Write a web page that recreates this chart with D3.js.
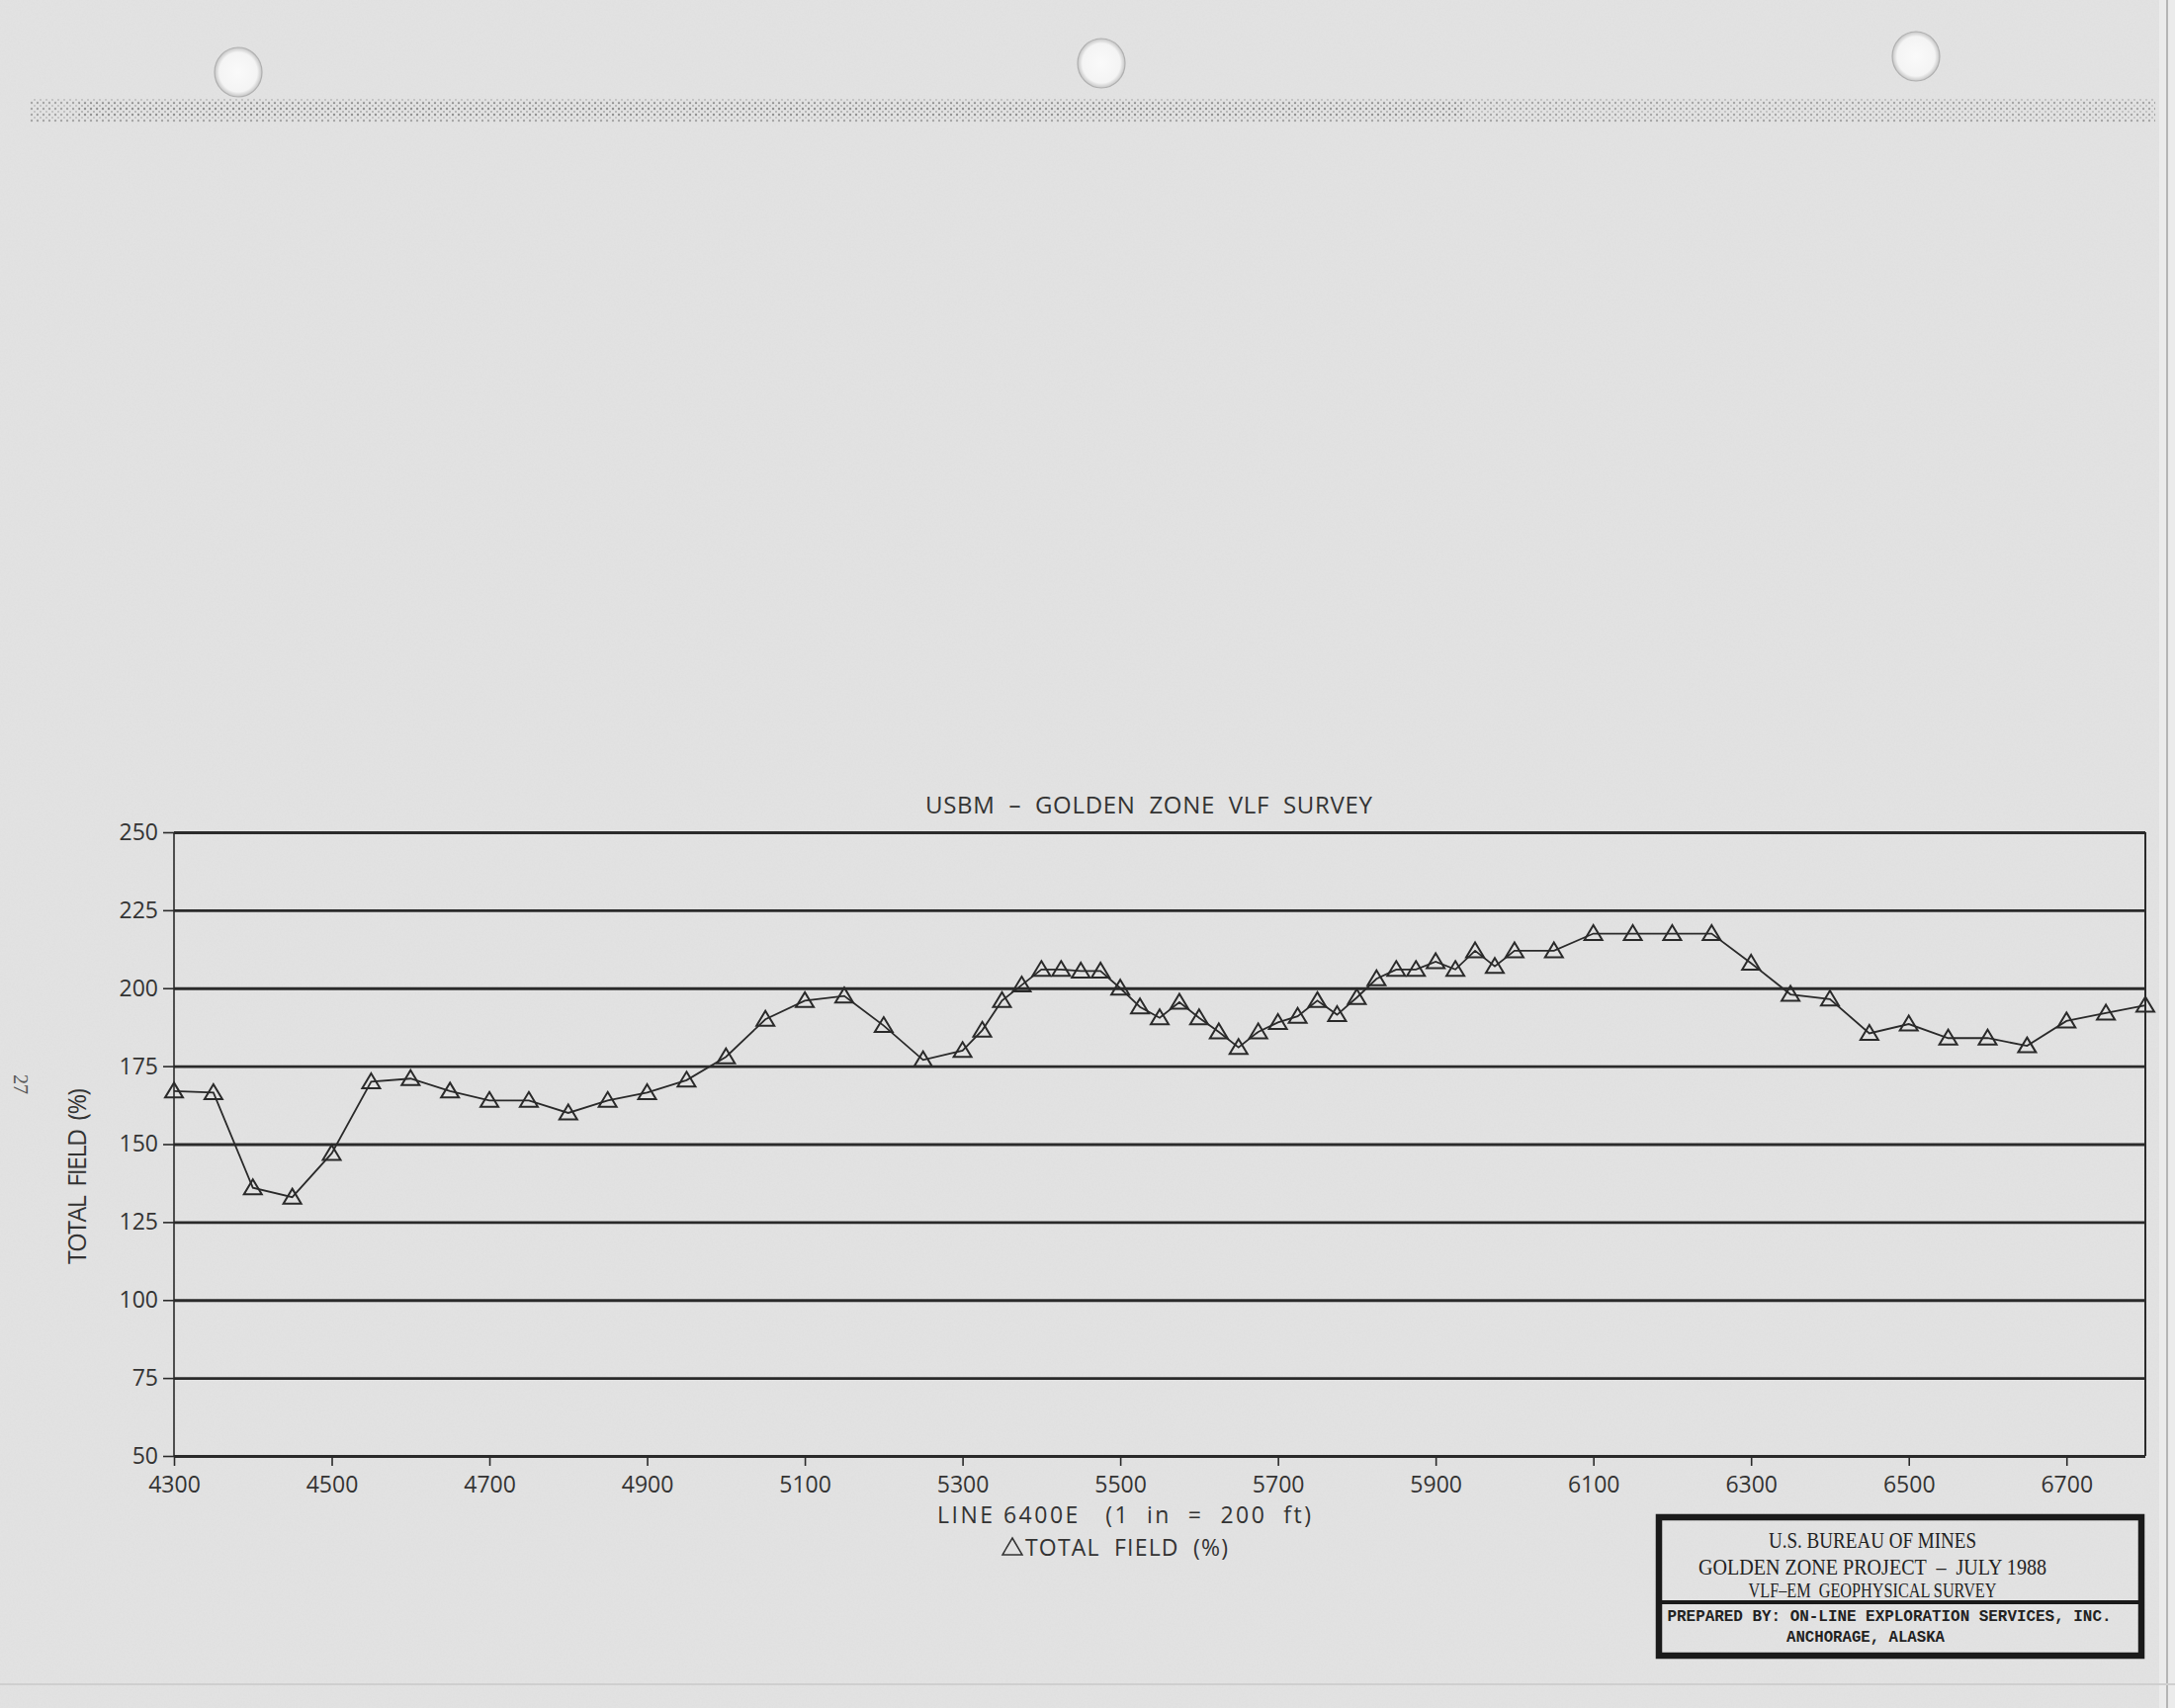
<!DOCTYPE html>
<html>
<head>
<meta charset="utf-8">
<script src="https://cdn.jsdelivr.net/npm/d3@7"></script>
<style>
  html, body { margin: 0; padding: 0; background: #e4e4e4; }
  svg { display: block; }
</style>
</head>
<body>
<svg id="chart" width="2200" height="1728"></svg>
<script>
// ---- data ----
const stations = [4300,4350,4400,4450,4500,4550,4600,4650,4700,4750,4800,4850,4900,4950,5000,5050,5100,5150,5200,5250,5300,
  5325,5350,5375,5400,5425,5450,5475,5500,5525,5550,5575,5600,5625,5650,5675,5700,5725,5750,5775,5800,5825,5850,5875,5900,5925,5950,5975,6000,
  6050,6100,6150,6200,6250,6300,6350,6400,6450,6500,6550,6600,6650,6700,6750,6800];
const totalField = [167,166.5,136,133,147,170,171,167,164,164,160,164,166.5,170.5,178,190,196,197.5,188,177,180,
  186.5,196,201,206,206,205.5,205.5,200,194,190.5,195.5,190.5,186,181,186,189,191,196,191.5,197,203,206,206,208.5,206,212,207,212,
  212,217.5,217.5,217.5,217.5,208,198,196.5,185.5,188.5,184,184,181.5,189.5,192,194.5];
const xTicks = [4300,4500,4700,4900,5100,5300,5500,5700,5900,6100,6300,6500,6700];
const yTicks = [50,75,100,125,150,175,200,225,250];
const chartTitle = "USBM  \u2013  GOLDEN  ZONE  VLF  SURVEY";
const xTitle1 = "LINE 6400E   (1  in  =  200  ft)";
const xTitle2 = "TOTAL  FIELD  (%)";
const yTitle = "TOTAL  FIELD  (%)";
const pageNumber = "27";
const boxLines = ["U.S. BUREAU OF MINES", "GOLDEN ZONE PROJECT  \u2013  JULY 1988", "VLF\u2013EM  GEOPHYSICAL SURVEY"];
const boxLines2 = ["PREPARED BY: ON-LINE EXPLORATION SERVICES, INC.", "ANCHORAGE, ALASKA"];

// ---- layout ----
const svg = d3.select("#chart");
const plot = {left: 176, right: 2170, top: 842, bottom: 1473};
const ink = "#2a2a2a";
const plotFont = "'Open Sans', 'Liberation Sans', sans-serif";

const x = d3.scaleLinear().domain([4300, 6800]).range([plot.left, plot.right]);
const y = d3.scaleLinear().domain([50, 250]).range([plot.bottom, plot.top]);

// ---- paper ----
const defs = svg.append("defs");
const f = defs.append("filter").attr("id", "grain").attr("x", 0).attr("y", 0).attr("width", "100%").attr("height", "100%");
f.append("feTurbulence").attr("type", "fractalNoise").attr("baseFrequency", 0.6).attr("numOctaves", 2).attr("seed", 3);
f.append("feColorMatrix").attr("type", "matrix")
  .attr("values", "0 0 0 0 0.5  0 0 0 0 0.5  0 0 0 0 0.5  0 0 0 0.35 0");
const pat = defs.append("pattern").attr("id", "dots").attr("width", 6).attr("height", 6).attr("patternUnits", "userSpaceOnUse");
pat.append("circle").attr("cx", 2).attr("cy", 2).attr("r", 1.2).attr("fill", "#6a6a6a");
pat.append("circle").attr("cx", 5).attr("cy", 5).attr("r", 0.9).attr("fill", "#8a8a8a");
const holeGrad = defs.append("radialGradient").attr("id", "hole");
holeGrad.append("stop").attr("offset", "0%").attr("stop-color", "#fafafa");
holeGrad.append("stop").attr("offset", "80%").attr("stop-color", "#f4f4f4");
holeGrad.append("stop").attr("offset", "100%").attr("stop-color", "#c4c4c4");

svg.append("rect").attr("width", 2200).attr("height", 1728).attr("fill", "#e3e3e3");
svg.append("rect").attr("width", 2200).attr("height", 1728).attr("filter", "url(#grain)").attr("opacity", 0.25);
// right page edge
svg.append("rect").attr("x", 2184).attr("y", 0).attr("width", 16).attr("height", 1728).attr("fill", "#ebebeb");
svg.append("line").attr("x1", 2192).attr("x2", 2192).attr("y1", 0).attr("y2", 1728).attr("stroke", "#b5b5b5").attr("stroke-width", 2);
svg.append("line").attr("x1", 0).attr("x2", 2200).attr("y1", 1704).attr("y2", 1704).attr("stroke", "#cfcfcf").attr("stroke-width", 2);
// halftone band at top
svg.append("rect").attr("x", 30).attr("y", 100).attr("width", 2150).attr("height", 24).attr("fill", "url(#dots)").attr("opacity", 0.5);
svg.append("rect").attr("x", 80).attr("y", 104).attr("width", 1400).attr("height", 14).attr("fill", "url(#dots)").attr("opacity", 0.35);
// punch holes
[[241, 73], [1114, 64], [1938, 57]].forEach(([cx, cy]) => {
  svg.append("ellipse").attr("cx", cx).attr("cy", cy).attr("rx", 24).attr("ry", 25)
    .attr("fill", "url(#hole)").attr("stroke", "#b0b0b0").attr("stroke-width", 1.2);
});

// ---- gridlines ----
const grid = svg.append("g").attr("transform", `translate(${plot.left},0)`)
  .call(d3.axisLeft(y).tickValues(yTicks).tickSize(-(plot.right - plot.left)).tickFormat(""));
grid.select(".domain").remove();
grid.selectAll("line").attr("stroke", ink).attr("stroke-width", 2.8);

// ---- y axis ----
const yAxis = svg.append("g").attr("transform", `translate(${plot.left},0)`)
  .call(d3.axisLeft(y).tickValues(yTicks).tickSize(11).tickPadding(5).tickFormat(d3.format("d")));
yAxis.select(".domain").attr("stroke", ink).attr("stroke-width", 1.6).attr("d", `M0,${plot.top}V${plot.bottom}`);
yAxis.selectAll(".tick line").attr("stroke", ink).attr("stroke-width", 1.6);
yAxis.selectAll("text").attr("font-family", plotFont).attr("font-size", 23).attr("fill", "#333");

// right border
svg.append("line").attr("x1", plot.right).attr("x2", plot.right).attr("y1", plot.top).attr("y2", plot.bottom)
  .attr("stroke", ink).attr("stroke-width", 2);

// ---- x axis ----
const xAxis = svg.append("g").attr("transform", `translate(0,${plot.bottom})`)
  .call(d3.axisBottom(x).tickValues(xTicks).tickSize(10).tickPadding(11).tickFormat(d3.format("d")));
xAxis.select(".domain").remove();
xAxis.selectAll(".tick line").attr("stroke", ink).attr("stroke-width", 1.6);
xAxis.selectAll("text").attr("font-family", plotFont).attr("font-size", 23).attr("fill", "#333");

// ---- data line ----
const pts = stations.map((s, i) => [s, totalField[i]]);
svg.append("path").datum(pts)
  .attr("fill", "none").attr("stroke", ink).attr("stroke-width", 1.8)
  .attr("d", d3.line().x(d => x(d[0])).y(d => y(d[1])));

const tri = "M0,-8.5L9,6.5L-9,6.5Z";
svg.append("g").selectAll("path").data(pts).join("path")
  .attr("transform", d => `translate(${x(d[0])},${y(d[1])})`)
  .attr("d", tri)
  .attr("fill", "none").attr("stroke", ink).attr("stroke-width", 2);

// ---- titles ----
svg.append("text").attr("x", 1162).attr("y", 823).attr("text-anchor", "middle")
  .attr("font-family", plotFont).attr("font-size", 24).attr("fill", "#333")
  .attr("textLength", 452).attr("lengthAdjust", "spacing")
  .style("white-space", "pre").text(chartTitle);

svg.append("text").attr("x", 1137).attr("y", 1541).attr("text-anchor", "middle")
  .attr("font-family", plotFont).attr("font-size", 23).attr("fill", "#333")
  .attr("textLength", 378).attr("lengthAdjust", "spacing")
  .style("white-space", "pre").text(xTitle1);

// legend symbol + label
const legY = 1574;
svg.append("path").attr("transform", `translate(1024,${legY - 9})`).attr("d", "M0,-9L10,8L-10,8Z")
  .attr("fill", "none").attr("stroke", "#333").attr("stroke-width", 1.5);
svg.append("text").attr("x", 1037).attr("y", legY)
  .attr("font-family", plotFont).attr("font-size", 23).attr("fill", "#333")
  .attr("textLength", 205).attr("lengthAdjust", "spacing")
  .style("white-space", "pre").text(xTitle2);

svg.append("text").attr("transform", "translate(87,1190) rotate(-90)").attr("text-anchor", "middle")
  .attr("font-family", plotFont).attr("font-size", 25).attr("fill", "#333")
  .attr("textLength", 178).attr("lengthAdjust", "spacing")
  .style("white-space", "pre").text(yTitle);

svg.append("text").attr("transform", "translate(14,1097) rotate(90)").attr("text-anchor", "middle")
  .attr("font-family", "'Liberation Serif', serif").attr("font-size", 20).attr("fill", "#555")
  .text(pageNumber);

// ---- title block ----
const bx = {l: 1678, r: 2166, t: 1535, b: 1675, div: 1621};
svg.append("rect").attr("x", bx.l).attr("y", bx.t).attr("width", bx.r - bx.l).attr("height", bx.b - bx.t)
  .attr("fill", "none").attr("stroke", "#1a1a1a").attr("stroke-width", 6.5);
svg.append("line").attr("x1", bx.l).attr("x2", bx.r).attr("y1", bx.div).attr("y2", bx.div)
  .attr("stroke", "#1a1a1a").attr("stroke-width", 4);
const serifLines = [[1566, 210, 24], [1593, 352, 24], [1616, 251, 21]];
boxLines.forEach((t, i) => {
  svg.append("text").attr("x", 1894).attr("y", serifLines[i][0]).attr("text-anchor", "middle")
    .attr("font-family", "'Liberation Serif', 'DejaVu Serif', serif").attr("font-size", serifLines[i][2])
    .attr("fill", "#222").attr("textLength", serifLines[i][1]).attr("lengthAdjust", "spacingAndGlyphs")
    .style("white-space", "pre").text(t);
});
const monoLines = [[1640, 1911, 449], [1661, 1887, 160]];
boxLines2.forEach((t, i) => {
  svg.append("text").attr("x", monoLines[i][1]).attr("y", monoLines[i][0]).attr("text-anchor", "middle")
    .attr("font-family", "'Liberation Mono', 'DejaVu Sans Mono', monospace").attr("font-size", 16).attr("font-weight", "bold")
    .attr("fill", "#222").attr("textLength", monoLines[i][2]).attr("lengthAdjust", "spacingAndGlyphs")
    .text(t);
});
</script>
</body>
</html>
